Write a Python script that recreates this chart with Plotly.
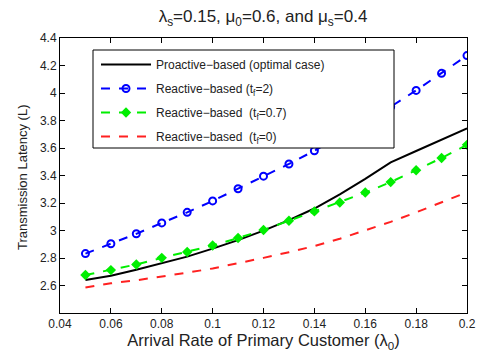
import plotly.graph_objects as go

x_vals = [0.05, 0.06, 0.07, 0.08, 0.09, 0.10, 0.11, 0.12, 0.13, 0.14, 0.15, 0.16, 0.17, 0.18, 0.19, 0.20]

proactive = [2.640, 2.671, 2.714, 2.760, 2.810, 2.868, 2.930, 2.999, 3.075, 3.160, 3.263, 3.376, 3.496, 3.578, 3.660, 3.743]
reactive_t2 = [2.832, 2.904, 2.976, 3.055, 3.132, 3.215, 3.304, 3.395, 3.484, 3.580, 3.685, 3.790, 3.900, 4.019, 4.143, 4.272]
reactive_t07 = [2.676, 2.712, 2.753, 2.801, 2.844, 2.891, 2.945, 3.004, 3.071, 3.139, 3.204, 3.276, 3.352, 3.438, 3.527, 3.623]
reactive_t0 = [2.585, 2.616, 2.638, 2.664, 2.693, 2.724, 2.760, 2.801, 2.842, 2.887, 2.940, 2.999, 3.063, 3.132, 3.203, 3.278]

names = ["Proactive−based (optimal case)", "Reactive−based (t<sub>f</sub>=2)",
         "Reactive−based  (t<sub>f</sub>=0.7)", "Reactive−based  (t<sub>f</sub>=0)"]

x_ticks = [0.04, 0.06, 0.08, 0.1, 0.12, 0.14, 0.16, 0.18, 0.2]
x_ticktext = ["0.04", "0.06", "0.08", "0.1", "0.12", "0.14", "0.16", "0.18", "0.2"]
y_ticks = [2.6, 2.8, 3.0, 3.2, 3.4, 3.6, 3.8, 4.0, 4.2, 4.4]
y_ticktext = ["2.6", "2.8", "3", "3.2", "3.4", "3.6", "3.8", "4", "4.2", "4.4"]

FONT = "Liberation Sans, Arial"
TXT = "#222"

fig = go.Figure()
fig.add_trace(go.Scatter(x=x_vals, y=proactive, mode="lines", name=names[0], legendgroup="a",
                         line=dict(color="black", width=2)))
fig.add_trace(go.Scatter(x=x_vals, y=reactive_t2, mode="lines+markers", name=names[1], legendgroup="b",
                         line=dict(color="#0000ff", width=2, dash="dash"),
                         marker=dict(symbol="circle-open", size=7, color="#0000ff",
                                     line=dict(width=2, color="#0000ff"))))
fig.add_trace(go.Scatter(x=x_vals, y=reactive_t07, mode="lines+markers", name=names[2], legendgroup="c",
                         line=dict(color="#00ee00", width=2, dash="dash"),
                         marker=dict(symbol="diamond", size=8, color="#00ee00")))
fig.add_trace(go.Scatter(x=x_vals, y=reactive_t0, mode="lines", name=names[3], legendgroup="d",
                         line=dict(color="#ff2020", width=2, dash="dash")))

axis_common = dict(showline=True, linecolor="black", linewidth=1, mirror="ticks",
                   ticks="inside", ticklen=5, tickcolor="black", showgrid=False,
                   zeroline=False, automargin=False,
                   tickfont=dict(family=FONT, size=12, color=TXT))

fig.update_xaxes(range=[0.04, 0.2], tickvals=x_ticks, ticktext=x_ticktext,
                 title=dict(text="Arrival Rate of Primary Customer (λ<sub>0</sub>)",
                            font=dict(family=FONT, size=16.5, color=TXT),
                            standoff=0),
                 **axis_common)
fig.update_yaxes(range=[2.4, 4.4], tickvals=y_ticks, ticktext=y_ticktext, **axis_common)

fig.add_annotation(text="Transmission Latency (L)", textangle=-90,
                   xref="paper", yref="paper", x=(23 - 60) / 407, y=(313 - 178) / 275,
                   xanchor="center", yanchor="middle", showarrow=False,
                   font=dict(family=FONT, size=13, color=TXT))

# legend box (drawn as a shape so its size matches the reference)
fig.add_shape(type="rect", xref="paper", yref="paper",
              x0=(93 - 60) / 407, x1=(394 - 60) / 407,
              y0=(313 - 148) / 275, y1=(313 - 50) / 275,
              line=dict(color="black", width=1), fillcolor="white", layer="above")

fig.update_layout(
    width=490, height=353,
    margin=dict(l=60, r=23, t=38, b=40),
    paper_bgcolor="white", plot_bgcolor="white",
    title=dict(text="λ<sub>s</sub>=0.15, μ<sub>0</sub>=0.6, and μ<sub>s</sub>=0.4",
               x=(263 / 490), xanchor="center", y=0.97, yanchor="top",
               font=dict(family=FONT, size=17, color=TXT)),
    legend=dict(x=(96 - 60) / 407, y=(313 - 50) / 275, xanchor="left", yanchor="top",
                bgcolor="rgba(0,0,0,0)", borderwidth=0,
                font=dict(family=FONT, size=12, color=TXT),
                itemwidth=50, tracegroupgap=5, traceorder="grouped"),
    showlegend=True,
)

fig.write_html("out.html", config={"displayModeBar": False},
               post_script="document.body.style.margin='0px';")
